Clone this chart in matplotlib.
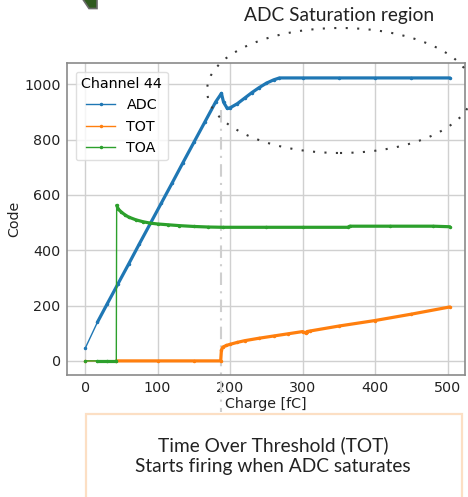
import matplotlib
matplotlib.use('Agg')
import matplotlib.pyplot as plt
from matplotlib.patches import Ellipse, Rectangle, Polygon

# ADC / TOT / TOA scan values (Channel 44)
adc_x = [0, 17, 30, 45, 60, 75, 90, 105, 120, 135, 150, 165, 180, 188,
         191, 196, 200, 210, 220, 230, 240, 250, 260, 268, 300, 350, 400, 450, 503]
adc_y = [45, 140, 204, 277, 350, 424, 497, 570, 643, 717, 790, 863, 936, 967,
         935, 913, 915, 930, 950, 970, 988, 1004, 1016, 1023, 1023, 1023, 1023, 1023, 1023]

tot_x = [0, 43, 100, 150, 187, 188, 190, 195, 200, 210, 220, 240, 260, 280,
         300, 304, 306, 310, 350, 400, 450, 503]
tot_y = [0, 0, 0, 0, 0, 40, 50, 56, 60, 67, 73, 82, 90, 98,
         106, 101, 106, 108, 126, 146, 169, 195]

toa_x = [0, 17, 30, 43, 43.5, 46, 50, 55, 60, 70, 80, 90, 100, 115, 130,
         150, 170, 190, 250, 300, 362, 365, 420, 480, 503]
toa_y = [0, 0, 0, 0, 562, 548, 538, 528, 520, 510, 503, 498, 495, 492, 489,
         486, 484, 483, 483, 483, 483, 487, 487, 487, 485]

series = [('ADC', adc_x, adc_y, '#1f77b4'),
          ('TOT', tot_x, tot_y, '#ff7f0e'),
          ('TOA', toa_x, toa_y, '#2ca02c')]

tick_vals = [0, 100, 200, 300, 400, 500]
ytick_vals = [0, 200, 400, 600, 800, 1000]
sat_charge = 187

FS = 10.3
W, H = 468, 497
fig = plt.figure(figsize=(W / 100, H / 100), dpi=100)
ax = fig.add_axes([67 / W, 1 - 375 / H, 398 / W, 312 / H])


def dense_runs(xs, ys):
    # split into runs: the first sample stands alone, and vertical jumps
    # (no samples in between) stay thin like in the original
    runs, cur = [], [1]
    for i in range(2, len(xs)):
        if xs[i] - xs[i - 1] < 1 and abs(ys[i] - ys[i - 1]) > 30:
            runs.append(cur)
            cur = [i]
        else:
            cur.append(i)
    runs.append(cur)
    return runs


for name, xs, ys, col in series:
    ax.plot(xs, ys, color=col, lw=1.0, marker='.', ms=3, label=name)
    for run in dense_runs(xs, ys):
        ax.plot([xs[i] for i in run], [ys[i] for i in run], color=col, lw=2.3,
                solid_capstyle='round')

ax.set_xlim(-25, 524)
ax.set_ylim(-51, 1077)
ax.set_xticks(tick_vals)
ax.set_yticks(ytick_vals)
ax.grid(True, color='#d0d0d0', lw=1.0)
ax.set_axisbelow(True)
for s in ax.spines.values():
    s.set_color('#8a8a8a')
    s.set_linewidth(1.2)
ax.tick_params(length=0, pad=4.5, labelsize=FS, colors='#222222')

ax.set_xlabel('Charge [fC]', fontsize=FS, color='#222222')
ax.set_ylabel('Code', fontsize=FS, color='#222222')
ax.xaxis.set_label_coords(0.5, -0.07)
ax.yaxis.set_label_coords(-0.115, 0.5)

leg = ax.legend(title='Channel 44', loc='upper left', fontsize=FS,
                title_fontsize=FS, frameon=True, borderaxespad=0.6)
leg.get_frame().set_edgecolor('#d8d8d8')

# dash-dot marker of where ADC saturates, runs below the axes
ax.plot([sat_charge, sat_charge], [907, -184], color='#cfcfcf', lw=1.5,
        ls=(0, (6, 3, 1, 3)), clip_on=False, zorder=1)

# slide annotations
ell = Ellipse((340 / W, 1 - 90.5 / H), 266 / W, 125 / H, transform=fig.transFigure,
              fill=False, edgecolor='#3a3a3a', lw=1.5, ls=(0, (1, 4.5)))
fig.add_artist(ell)
fig.text(339 / W, 1 - 15 / H, 'ADC Saturation region', ha='center', va='center',
         fontsize=13.8, family='Lato', color='#222222')

box = Rectangle((86 / W, -0.05), 376 / W, 0.05 + 1 - 414 / H, transform=fig.transFigure,
                facecolor='white', edgecolor='#fcdfc4', lw=1.6)
fig.add_artist(box)
fig.text(273 / W, 1 - 455.5 / H, 'Time Over Threshold (TOT)\nStarts firing when ADC saturates',
         ha='center', va='center', fontsize=13.8, family='Lato', color='#222222',
         linespacing=1.3)

# fragment of a green arrow cut by the crop
frag = Polygon([(80 / W, 1.01), (89 / W, 1 - 8.5 / H), (97 / W, 1 - 8.5 / H), (97 / W, 1.01)],
               closed=True, transform=fig.transFigure, facecolor='#2f5a1e',
               edgecolor='#6a6a6a', lw=1.2)
fig.add_artist(frag)

fig.savefig('out.png', dpi=100)
